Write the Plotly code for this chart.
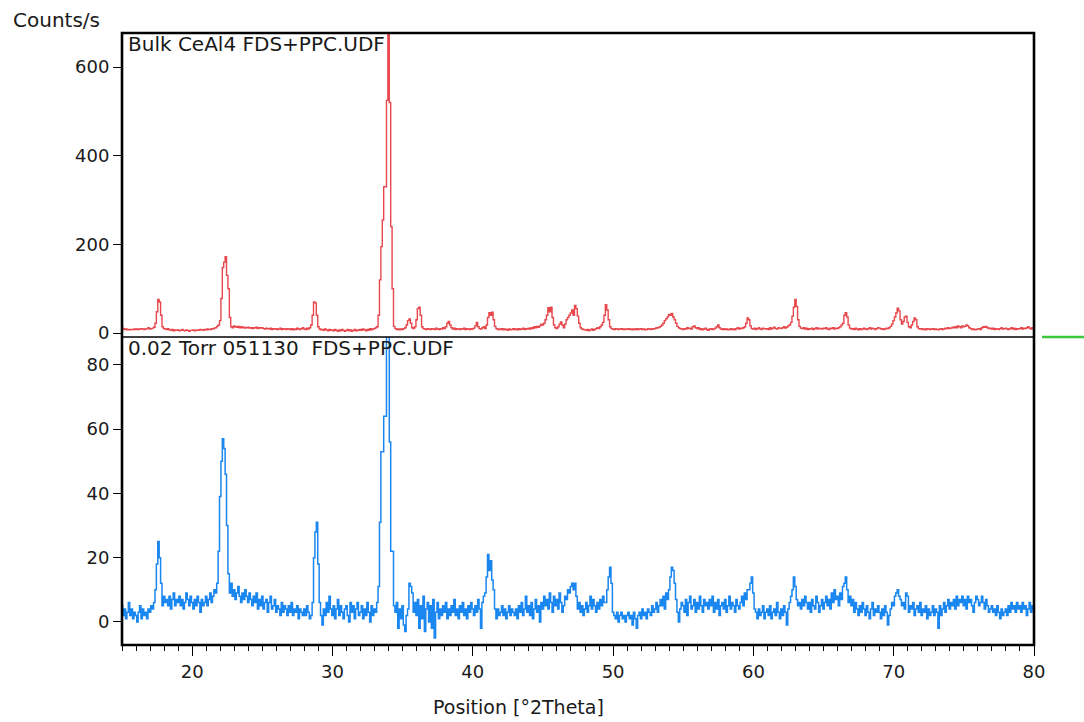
import numpy as np
import plotly.graph_objects as go

# 2-theta grid, 0.1 degree step from 15.0 to 80.0
two_theta = np.round(np.arange(150, 801) / 10.0, 1)

# Bulk CeAl4 (counts/s), one row per degree: x.0 ... x.9
bulk_counts = [
    14, 10, 8, 9, 7, 8, 7, 8, 8, 9,            # 15
    8, 9, 8, 9, 10, 9, 8, 9, 10, 12,           # 16
    9, 10, 11, 13, 22, 48, 76, 70, 40, 14,     # 17
    10, 9, 8, 10, 7, 6, 8, 5, 7, 6,            # 18
    7, 5, 6, 8, 6, 5, 7, 6, 4, 6,              # 19
    6, 7, 5, 6, 7, 6, 8, 7, 6, 8,              # 20
    7, 9, 8, 8, 10, 9, 11, 12, 15, 18,         # 21
    28, 78, 148, 160, 172, 130, 100, 35, 14, 12,  # 22
    16, 14, 13, 15, 12, 14, 12, 13, 11, 12,    # 23
    13, 11, 12, 10, 12, 11, 13, 10, 12, 11,    # 24
    12, 10, 9, 11, 10, 9, 11, 8, 10, 9,        # 25
    10, 8, 9, 11, 8, 10, 9, 8, 10, 9,          # 26
    8, 10, 7, 9, 8, 11, 9, 8, 10, 12,          # 27
    9, 8, 11, 9, 12, 18, 40, 70, 68, 40,       # 28
    14, 9, 7, 8, 6, 9, 7, 5, 8, 6,             # 29
    7, 5, 8, 6, 4, 7, 5, 8, 6, 4,              # 30
    6, 8, 5, 7, 4, 6, 8, 5, 7, 6,              # 31
    8, 6, 9, 7, 5, 8, 6, 10, 7, 9,             # 32
    10, 12, 14, 40, 120, 195, 255, 330, 330, 525,  # 33
    680, 520, 240, 100, 15, 10, 8, 9, 7, 9,    # 34
    8, 10, 12, 18, 28, 32, 22, 12, 10, 14,     # 35
    30, 55, 58, 40, 14, 10, 9, 8, 10, 9,       # 36
    8, 10, 9, 8, 11, 9, 8, 10, 9, 12,          # 37
    10, 14, 22, 26, 18, 12, 9, 11, 8, 10,      # 38
    9, 8, 10, 9, 11, 8, 10, 9, 8, 10,          # 39
    9, 11, 16, 24, 14, 10, 9, 12, 14, 10,      # 40
    18, 35, 46, 40, 47, 30, 15, 10, 8, 9,      # 41
    8, 10, 7, 9, 8, 6, 9, 7, 8, 10,            # 42
    8, 9, 7, 10, 8, 9, 11, 8, 10, 9,           # 43
    11, 9, 12, 10, 14, 12, 15, 13, 16, 20,     # 44
    18, 22, 30, 40, 57, 48, 58, 35, 18, 12,    # 45
    10, 14, 20, 25, 18, 12, 20, 30, 35, 40,    # 46
    45, 52, 40, 62, 55, 38, 22, 12, 9, 8,      # 47
    7, 6, 8, 5, 7, 9, 6, 8, 10, 12,            # 48
    10, 14, 18, 24, 40, 64, 52, 30, 14, 10,    # 49
    9, 8, 10, 9, 8, 9, 10, 8, 9, 8,            # 50
    9, 10, 8, 9, 7, 9, 8, 10, 8, 9,            # 51
    10, 8, 9, 7, 8, 10, 9, 8, 10, 9,           # 52
    10, 12, 11, 13, 15, 18, 22, 28, 32, 36,    # 53
    42, 40, 44, 36, 30, 22, 15, 12, 10, 9,     # 54
    8, 10, 9, 12, 10, 11, 9, 14, 16, 12,       # 55
    10, 12, 8, 10, 7, 9, 11, 8, 6, 9,          # 56
    10, 8, 9, 11, 14, 18, 12, 9, 8, 10,        # 57
    8, 9, 7, 8, 10, 8, 9, 7, 10, 12,           # 58
    9, 11, 10, 12, 14, 22, 34, 30, 16, 10,     # 59
    9, 11, 8, 10, 12, 9, 8, 11, 10, 9,         # 60
    10, 8, 12, 9, 11, 13, 10, 9, 12, 11,       # 61
    10, 12, 14, 11, 13, 16, 18, 24, 38, 58,    # 62
    76, 60, 30, 15, 11, 10, 12, 9, 11, 8,      # 63
    10, 9, 11, 8, 10, 12, 9, 11, 10, 9,        # 64
    11, 10, 12, 9, 8, 11, 10, 12, 9, 11,       # 65
    10, 12, 14, 18, 22, 40, 46, 36, 18, 11,    # 66
    9, 10, 8, 11, 9, 7, 10, 8, 9, 11,          # 67
    9, 8, 10, 12, 9, 11, 10, 8, 10, 12,        # 68
    11, 9, 10, 8, 9, 11, 10, 12, 15, 20,       # 69
    28, 36, 45, 56, 50, 30, 20, 26, 36, 38,    # 70
    24, 14, 12, 18, 26, 34, 30, 14, 10, 9,     # 71
    10, 8, 9, 7, 10, 9, 8, 9, 10, 8,           # 72
    9, 8, 7, 9, 10, 8, 9, 11, 10, 12,          # 73
    10, 11, 13, 12, 14, 12, 16, 14, 12, 16,    # 74
    14, 15, 18, 16, 12, 10, 8, 9, 7, 8,        # 75
    9, 10, 8, 12, 14, 13, 15, 12, 10, 11,      # 76
    9, 11, 8, 10, 9, 8, 10, 12, 9, 10,         # 77
    11, 9, 8, 10, 12, 9, 11, 8, 10, 9,         # 78
    10, 12, 9, 11, 10, 12, 14, 11, 9, 12,      # 79
    10,                                        # 80
]

# 0.02 Torr 051130 (counts/s)
torr_counts = [
    5, 2, 4, 1, 3, 6, 2, 4, 1, 3,              # 15
    2, 0, 3, 5, 1, 4, 2, 3, 1, 4,              # 16
    3, 5, 4, 6, 10, 18, 25, 20, 12, 5,         # 17
    8, 6, 7, 5, 8, 4, 7, 9, 5, 7,              # 18
    6, 8, 5, 7, 4, 6, 9, 7, 5, 8,              # 19
    6, 4, 7, 5, 8, 6, 3, 7, 5, 6,              # 20
    8, 5, 7, 9, 6, 8, 10, 9, 12, 22,           # 21
    39, 50, 57, 54, 46, 30, 15, 9, 12, 8,      # 22
    10, 7, 9, 11, 8, 6, 9, 7, 10, 8,           # 23
    6, 9, 7, 5, 8, 6, 9, 4, 7, 5,              # 24
    8, 4, 6, 7, 3, 6, 8, 4, 5, 7,              # 25
    3, 5, 4, 2, 6, 3, 5, 4, 2, 5,              # 26
    3, 6, 2, 4, 3, 5, 1, 4, 3, 2,              # 27
    4, 2, 5, 3, 1, 2, 6, 20, 28, 31,           # 28
    18, 6, 2, -1, 4, 2, 6, 3, 8, 4,            # 29
    2, 5, 1, 4, 7, 2, 5, 3, 1, 4,              # 30
    5, 2, 0, 6, 3, 5, 1, 4, 6, 2,              # 31
    3, 5, 1, 4, 2, 6, 3, 0, 5, 2,              # 32
    4, 3, 6, 11, 31, 53, 53, 64, 64, 89,       # 33
    89, 56, 22, 22, 5, 3, 6, -2, 4, 1,         # 34
    5, -1, -3, 2, 4, 12, 11, 9, 3, 6,          # 35
    2, 7, -2, 5, 1, 8, -3, 4, 6, 0,            # 36
    5, -2, 7, -5, 3, 6, 1, 4, 2, 5,            # 37
    3, 6, 1, 4, 2, 5, 3, 7, 2, 4,              # 38
    1, 5, 3, 6, 2, 4, 1, 5, 3, 6,              # 39
    4, 2, 5, 3, 7, 4, -2, 6, 8, 9,             # 40
    14, 21, 16, 19, 13, 10, 4, 1, 4, 2,        # 41
    3, 5, 2, 4, 1, 3, 5, 2, 4, 3,              # 42
    2, 4, 1, 5, 3, 6, 2, 4, 8, 3,              # 43
    5, 2, 6, 1, 4, 7, 3, 5, 0, 6,              # 44
    4, 8, 5, 7, 4, 9, 6, 3, 8, 5,              # 45
    7, 4, 9, 6, 3, 5, 8, 7, 10, 9,             # 46
    11, 12, 10, 12, 8, 4, 6, 3, 5, 2,          # 47
    4, 6, 3, 5, 8, 4, 7, 5, 3, 6,              # 48
    4, 7, 5, 8, 6, 6, 10, 14, 17, 12,          # 49
    3, 2, 1, 3, 0, 2, 3, 1, 2, 0,              # 50
    2, 3, 1, 2, -1, 3, 1, -2, 2, 3,            # 51
    1, 4, 2, 3, 1, 4, 3, 2, 5, 3,              # 52
    4, 6, 3, 5, 7, 5, 8, 4, 9, 7,              # 53
    10, 14, 17, 16, 12, 7, 3, 0, 4, 6,         # 54
    5, 3, 7, 2, 6, 8, 4, 5, 7, 3,              # 55
    6, 4, 8, 5, 3, 7, 5, 6, 4, 7,              # 56
    5, 8, 3, 6, 4, 7, 2, 5, 6, 4,              # 57
    7, 3, 5, 8, 4, 6, 5, 3, 7, 5,              # 58
    4, 6, 8, 5, 9, 7, 10, 10, 12, 14,          # 59
    9, 4, 3, 1, 4, 2, 3, 5, 1, 3,              # 60
    4, 2, 5, 1, 3, 4, 2, 6, 3, 1,              # 61
    4, 2, 5, 3, -1, 4, 6, 8, 10, 14,           # 62
    11, 7, 5, 6, 4, 7, 5, 8, 6, 4,             # 63
    6, 3, 7, 5, 4, 8, 6, 3, 5, 7,              # 64
    4, 6, 8, 5, 7, 4, 9, 6, 10, 7,             # 65
    8, 5, 9, 7, 11, 12, 14, 10, 6, 8,          # 66
    5, 7, 3, 6, 4, 2, 5, 3, 6, 4,              # 67
    2, 5, 3, 1, 4, 6, 2, 4, 3, 5,              # 68
    3, 1, 4, 2, 5, 3, -1, 2, 4, 6,             # 69
    5, 8, 9, 10, 8, 7, 5, 6, 4, 9,             # 70
    8, 3, 5, 4, 6, 2, 4, 5, 3, 6,              # 71
    2, 4, 3, 5, 1, 4, 2, 3, 5, 2,              # 72
    4, 3, -2, 5, 2, 4, 6, 3, 5, 7,             # 73
    4, 6, 5, 7, 4, 8, 5, 7, 6, 8,              # 74
    5, 7, 4, 8, 6, 7, 5, 3, 6, 8,              # 75
    7, 5, 6, 8, 6, 4, 7, 5, 3, 4,              # 76
    5, 3, 4, 2, 5, 3, 1, 4, 2, 3,              # 77
    4, 2, 5, 3, 6, 4, 5, 3, 6, 4,              # 78
    5, 3, 6, 4, 5, 2, 4, 6, 3, 5,              # 79
    4,                                         # 80
]

x_ticks = [20, 30, 40, 50, 60, 70, 80]
top_ticks = [0, 200, 400, 600]
bottom_ticks = [0, 20, 40, 60, 80]

W, H = 1084, 722
L, R, T, B = 121.5, 1034, 33, 645
split_px = 337
split = (B - split_px) / (B - T)

FONT = "DejaVu Sans, Verdana, sans-serif"
FS = 18
TXT = "#1a1a1a"

fig = go.Figure()
fig.add_trace(go.Scatter(x=two_theta, y=bulk_counts, yaxis="y2", mode="lines",
                         line=dict(color="#e8474c", width=1.4, shape="hvh"),
                         showlegend=False))
fig.add_trace(go.Scatter(x=two_theta, y=torr_counts, yaxis="y", mode="lines",
                         line=dict(color="#1a86f0", width=1.5, shape="hvh"),
                         showlegend=False))

fig.update_layout(
    width=W, height=H,
    margin=dict(l=L, r=W - R, t=T, b=H - B, pad=0),
    paper_bgcolor="white", plot_bgcolor="white",
    font=dict(family=FONT, size=FS, color=TXT),
    xaxis=dict(range=[15, 80], tickvals=x_ticks, ticks="outside", ticklen=10,
               tickwidth=1.3, tickcolor="black", showgrid=False, zeroline=False,
               showline=False, anchor="y",
               minor=dict(dtick=1, tick0=15, ticks="outside", ticklen=5,
                          tickwidth=1.3, tickcolor="black", showgrid=False),
               tickfont=dict(size=FS, color=TXT)),
    yaxis=dict(domain=[0, split], range=[-7.2, 88.7], tickvals=bottom_ticks,
               ticks="outside", ticklen=8, tickwidth=1.2, tickcolor="black",
               showgrid=False, zeroline=False, showline=False, anchor="x",
               tickfont=dict(size=FS, color=TXT)),
    yaxis2=dict(domain=[split, 1], range=[-9, 677], tickvals=top_ticks,
                ticks="outside", ticklen=8, tickwidth=1.2, tickcolor="black",
                showgrid=False, zeroline=False, showline=False, anchor="x",
                tickfont=dict(size=FS, color=TXT)),
)

# frame and separator
fig.add_shape(type="rect", xref="paper", yref="paper", x0=0, x1=1, y0=0, y1=1,
              line=dict(color="black", width=2.6), layer="above")
fig.add_shape(type="line", xref="paper", yref="paper", x0=0, x1=1, y0=split, y1=split,
              line=dict(color="black", width=1.3), layer="above")
# green marker at right
fig.add_shape(type="line", xref="paper", yref="paper",
              x0=(1042 - L) / (R - L), x1=(1084 - L) / (R - L), y0=split, y1=split,
              line=dict(color="#3cc83c", width=2.5))

fig.add_annotation(text="Bulk CeAl4 FDS+PPC.UDF", xref="paper", yref="paper",
                   x=(126 - L) / (R - L), y=1, xanchor="left", yanchor="top",
                   showarrow=False, font=dict(size=20, color=TXT), yshift=3)
fig.add_annotation(text="0.02 Torr 051130 \u00a0FDS+PPC.UDF", xref="paper", yref="paper",
                   x=(126 - L) / (R - L), y=split, xanchor="left", yanchor="top",
                   showarrow=False, font=dict(size=20, color=TXT), yshift=3)
fig.add_annotation(text="Counts/s", xref="paper", yref="paper",
                   x=(10 - L) / (R - L), y=(B - 20) / (B - T), xanchor="left",
                   yanchor="middle", showarrow=False, font=dict(size=20, color=TXT))
fig.add_annotation(text="Position [°2Theta]", xref="paper", yref="paper",
                   x=(518 - L) / (R - L), y=(B - 707) / (B - T), xanchor="center",
                   yanchor="middle", showarrow=False, font=dict(size=19, color=TXT))

fig.write_html("out.html")
